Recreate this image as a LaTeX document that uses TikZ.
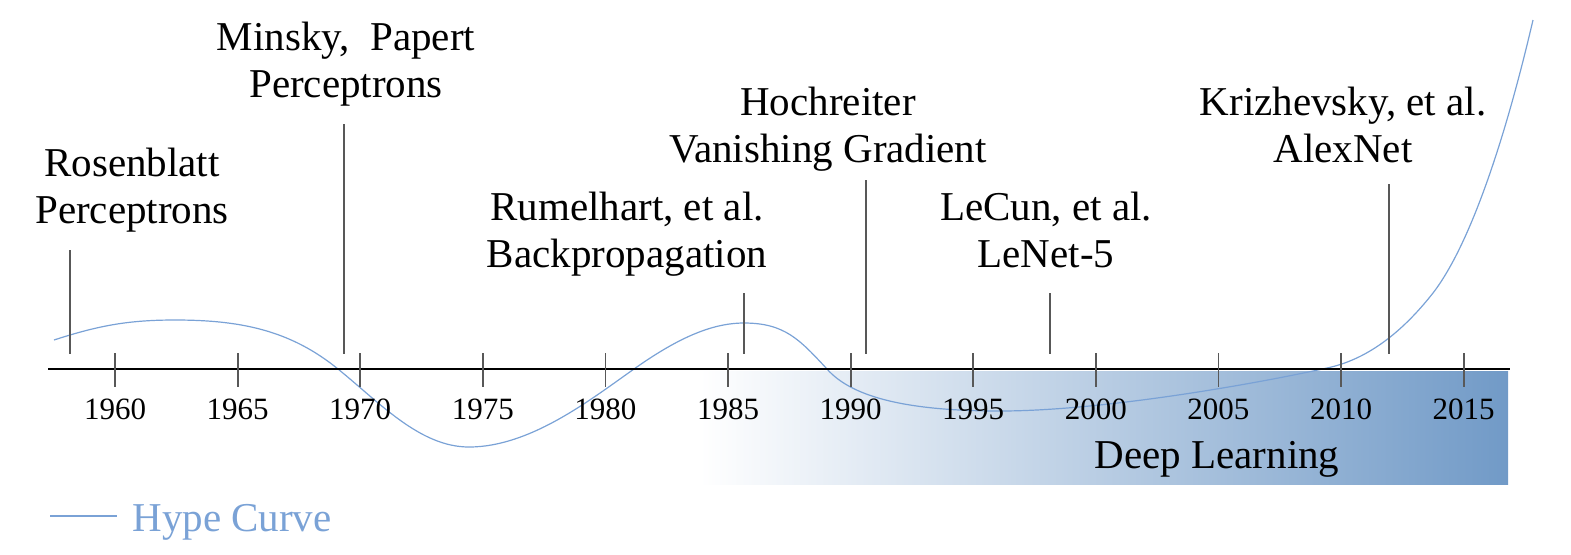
\documentclass[tikz,border=0pt]{standalone}
\usepackage{fontspec}
\setmainfont{Liberation Serif}
\definecolor{hype}{RGB}{122,162,214}
\definecolor{deepblue}{RGB}{113,154,199}
\definecolor{tickgray}{RGB}{88,88,88}
\tikzset{
  evlabel/.style={align=center, inner sep=0pt, anchor=base, font=\fontsize{20.5pt}{23.5pt}\selectfont},
  yearlabel/.style={inner sep=0pt, anchor=base, font=\fontsize{15.5pt}{18pt}\selectfont},
  tickline/.style={draw=tickgray, line width=0.9pt},
  evline/.style={draw=tickgray, line width=0.75pt},
  axisline/.style={draw=black, line width=0.9pt},
  hypeline/.style={draw=hype, line width=0.6pt}
}
\begin{document}
\begin{tikzpicture}[x=0.5pt,y=-0.5pt]
\useasboundingbox (0,0) rectangle (1571,554);
% Deep learning band
\shade[left color=white, right color=deepblue] (700,371) rectangle (1508,484);
\node[evlabel] (dl) at (1217,468) {Deep Learning};
% hype curve
\draw[hypeline] (54,340) .. controls (100,325) and (130,320) .. (175,320)
  .. controls (240,320) and (290,330) .. (338,369)
  .. controls (380,403) and (420,447) .. (469,447)
  .. controls (530,447) and (590,400) .. (634,369)
  .. controls (675,340) and (710,323) .. (744,323)
  .. controls (785,323) and (800,340) .. (827,369)
  .. controls (850,395) and (900,411) .. (1000,411)
  .. controls (1100,411) and (1250,385) .. (1327,368)
  .. controls (1365,360) and (1400,335) .. (1433,293)
  .. controls (1470,245) and (1505,140) .. (1533,20);
% axis
\coordinate (axL) at (48,369);
\coordinate (axR) at (1510,369);
\draw[axisline] (axL) -- (axR);
% ticks and years
\foreach \yr [count=\i from 0] in {1960,1965,1970,1975,1980,1985,1990,1995,2000,2005,2010,2015} {
  \coordinate (ta\yr) at ({115+122.6*\i},353);
  \coordinate (tb\yr) at ({115+122.6*\i},387);
  \draw[tickline] (ta\yr) -- (tb\yr);
  \node[yearlabel] (y\yr) at ({115+122.6*\i},419) {\yr};
}
% events
\node[evlabel] (ros) at (132,223) {Rosenblatt\\Perceptrons};
\coordinate (rosT) at (70,250); \coordinate (rosB) at (70,354);
\draw[evline] (rosT) -- (rosB);

\node[evlabel] (min) at (346,97) {Minsky,\ \ Papert\\Perceptrons};
\coordinate (minT) at (344,124); \coordinate (minB) at (344,354);
\draw[evline] (minT) -- (minB);

\node[evlabel] (rum) at (627,267) {Rumelhart, et al.\\Backpropagation};
\coordinate (rumT) at (744,293); \coordinate (rumB) at (744,354);
\draw[evline] (rumT) -- (rumB);

\node[evlabel] (hoc) at (828,162) {Hochreiter\\Vanishing Gradient};
\coordinate (hocT) at (866,180); \coordinate (hocB) at (866,354);
\draw[evline] (hocT) -- (hocB);

\node[evlabel] (lec) at (1046,267) {LeCun, et al.\\LeNet-5};
\coordinate (lecT) at (1050,293); \coordinate (lecB) at (1050,354);
\draw[evline] (lecT) -- (lecB);

\node[evlabel] (kri) at (1343,162) {Krizhevsky, et al.\\AlexNet};
\coordinate (kriT) at (1389,184); \coordinate (kriB) at (1389,354);
\draw[evline] (kriT) -- (kriB);
% legend
\coordinate (lgA) at (50,516); \coordinate (lgB) at (117,516);
\draw[hypeline] (lgA) -- (lgB);
\node[evlabel, anchor=base west, text=hype] (lgT) at (132,531) {Hype Curve};
\end{tikzpicture}
\end{document}
